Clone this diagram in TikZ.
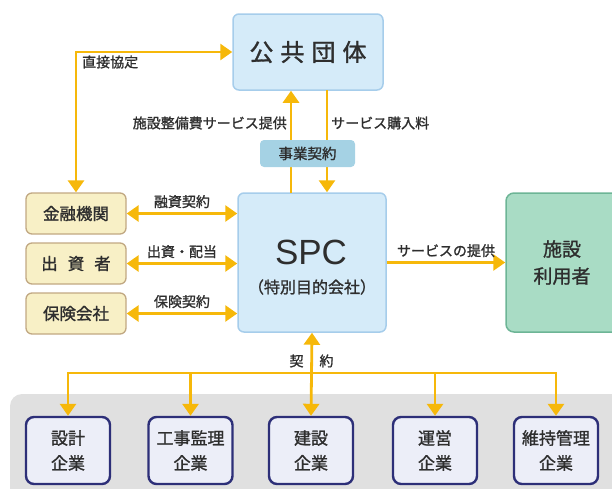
\documentclass[tikz,border=0pt]{standalone}
\usepackage{fontspec}
\setmainfont{Noto Sans CJK JP}
\newfontfamily\jpb{Noto Sans CJK JP}[FakeBold=1.3]
\newfontfamily\lat{Liberation Sans}
\usetikzlibrary{arrows.meta,calc}
\definecolor{arrc}{HTML}{F6B80A}
\definecolor{txt}{HTML}{2E2E2E}
\definecolor{bluef}{HTML}{D5EBF9}
\definecolor{blued}{HTML}{A6CDEB}
\definecolor{jigyof}{HTML}{A5D2E4}
\definecolor{greenf}{HTML}{A9DCC5}
\definecolor{greend}{HTML}{6DB596}
\definecolor{yelf}{HTML}{F8F0C6}
\definecolor{yeld}{HTML}{C1A882}
\definecolor{greyb}{HTML}{E0E0E0}
\definecolor{navyd}{HTML}{2D2F78}
\definecolor{lavf}{HTML}{ECEEF8}
\tikzset{
  x=1pt, y=-1pt,
  every node/.style={text=txt, inner sep=0pt},
  bluebox/.style={draw=blued, fill=bluef, line width=1.5pt, rounded corners=6pt},
  sidebox/.style={draw=yeld, fill=yelf, line width=1.3pt, rounded corners=6pt,
    minimum width=100pt, minimum height=41pt, font=\jpb\fontsize{16.5}{18}\selectfont},
  firmbox/.style={draw=navyd, fill=lavf, line width=2.4pt, rounded corners=8pt,
    minimum width=84pt, minimum height=67pt, align=center,
    font=\jpb\fontsize{17}{25}\selectfont},
  lbl/.style={font=\jpb\fontsize{14}{16}\selectfont},
  arr/.style={draw=arrc, line width=2.8pt, -{Triangle[length=12pt,width=16pt]}},
  darr/.style={draw=arrc, line width=2.8pt, {Triangle[length=12pt,width=16pt]}-{Triangle[length=12pt,width=16pt]}},
  plain/.style={draw=arrc, line width=2.8pt}
}
\begin{document}
\begin{tikzpicture}
\useasboundingbox (0,0) rectangle (612,488);
\clip (0,0) rectangle (612,488);
% grey band
\fill[greyb, rounded corners=12pt] (10,394) rectangle (640,520);

% main boxes
\node[bluebox, minimum width=150pt, minimum height=76pt, font=\jpb\fontsize{24}{26}\selectfont]
  (kokyo) at (308,52) {公\hspace{7pt}共\hspace{7pt}団\hspace{7pt}体};
\node[bluebox, minimum width=148pt, minimum height=139pt, align=center]
  (spc) at (312,262.5) {};
\node[font=\lat\fontsize{35}{36}\selectfont] (spct) at (311,252) {SPC};
\node[font=\jpb\fontsize{16}{18}\selectfont] (spcs) at (312,287) {（特別目的会社）};
\node[draw=greend, fill=greenf, line width=1.5pt, rounded corners=8pt,
  minimum width=130pt, minimum height=139pt, align=center,
  font=\jpb\fontsize{19}{27}\selectfont]
  (riyo) at (571,262.5) {\hspace*{-18pt}施設\\\hspace*{-18pt}利用者};

% side boxes
\node[sidebox] (kinyu) at (76,213.5) {金融機関};
\node[sidebox] (shussi) at (76,263.5) {出\hspace{10pt}資\hspace{10pt}者};
\node[sidebox] (hoken) at (76,313.5) {保険会社};

% firms
\node[firmbox] (sekkei) at (68,450.5) {設計\\企業};
\node[firmbox] (kanri) at (190.5,450.5) {工事監理\\企業};
\node[firmbox] (kensetsu) at (311,450.5) {建設\\企業};
\node[firmbox] (unei) at (435,450.5) {運営\\企業};
\node[firmbox] (iji) at (556,450.5) {維持管理\\企業};

% direct agreement
\draw[darr] (kinyu.north) |- (kokyo.west);
\node[lbl, anchor=west] (chokusetsu) at (82,62) {直接協定};

% business contract arrows
\coordinate (upb) at (291,193);
\coordinate (dnb) at (327,90);
\draw[arr] (upb) -- (upb |- kokyo.south);
\draw[arr] (dnb) -- (dnb |- spc.north);
\node[fill=jigyof, rounded corners=4pt, minimum width=95pt, minimum height=27pt,
  font=\jpb\fontsize{14.5}{16}\selectfont] (jigyo) at (307.5,153.5) {事業契約};
\node[lbl, anchor=east] (lab1) at (287,123) {施設整備費サービス提供};
\node[lbl, anchor=west] (lab2) at (331,123) {サービス購入料};

% side arrows
\draw[darr] (kinyu.east) -- (kinyu.east -| spc.west) node[lbl, midway, above=4pt] {融資契約};
\draw[darr] (shussi.east) -- (shussi.east -| spc.west) node[lbl, midway, above=4pt] {出資・配当};
\draw[darr] (hoken.east) -- (hoken.east -| spc.west) node[lbl, midway, above=4pt] {保険契約};

% service to users
\draw[arr] (spc.east) -- (riyo.west) node[lbl, midway, above=4pt] {サービスの提供};

% contracts with firms
\coordinate (bus) at (311,373);
\draw[darr] (spc.south) -- (kensetsu.north);
\draw[arr] (bus) -| (sekkei.north);
\draw[arr] (bus) -| (kanri.north);
\draw[arr] (bus) -| (unei.north);
\draw[arr] (bus) -| (iji.north);
\node[lbl] (keiyaku) at (311.5,361) {契\hspace{16pt}約};
\end{tikzpicture}
\end{document}
